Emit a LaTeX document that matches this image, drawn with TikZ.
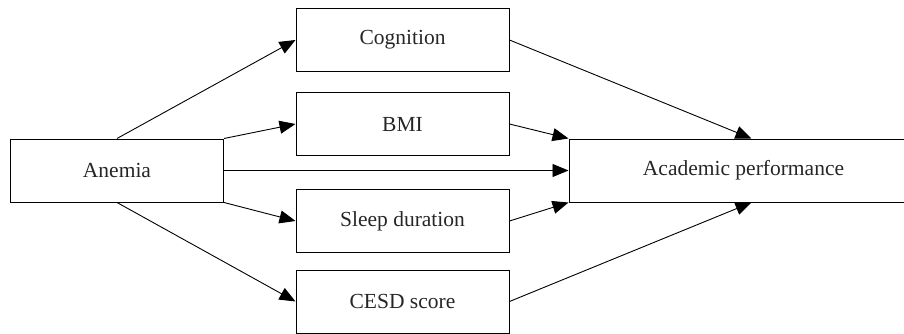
\documentclass[tikz,border=0pt]{standalone}
\usepackage{fontspec}
\setmainfont{Liberation Serif}
\usepackage{tikz}
\usetikzlibrary{positioning, arrows.meta}

\begin{document}
\begin{tikzpicture}[x=1pt,y=-1pt,
    varbox/.style={draw, line width=1pt, minimum width=213pt, minimum height=63pt,
      inner sep=0pt, font=\fontsize{21.5}{25}\selectfont, text=black!85},
    path/.style={line width=0.9pt, -{Triangle[length=16pt,width=13pt]}}]
                  \useasboundingbox (0,0) rectangle (904,334);
                  \clip (0,0) rectangle (904,334);
                  \node[varbox] (anemia) at (117,170.5) {Anemia};
                  \node[varbox] (cog) at (402.5,40) {Cognition};
                  \node[varbox] (bmi) at (402.5,124) {BMI};
                  \node[varbox] (sleep) at (402.5,221) {Sleep duration};
                  \node[varbox] (cesd) at (402.5,301.5) {CESD score};
                  \node[varbox, minimum width=349pt] (acad) at (743.5,170.5) {Academic performance};
                  \draw[path] (anemia.north) -- (cog.west);
                  \draw[path] (anemia.north east) -- (bmi.west);
                  \draw[path] (anemia.east) -- (acad.west);
                  \draw[path] (anemia.south east) -- (sleep.west);
                  \draw[path] (anemia.south) -- (cesd.west);
                  \draw[path] (cog.east) -- ([xshift=8pt]acad.north);
                  \draw[path] (bmi.east) -- (acad.north west);
                  \draw[path] (sleep.east) -- (acad.south west);
                  \draw[path] (cesd.east) -- ([xshift=8pt]acad.south);
              \end{tikzpicture}
\end{document}
